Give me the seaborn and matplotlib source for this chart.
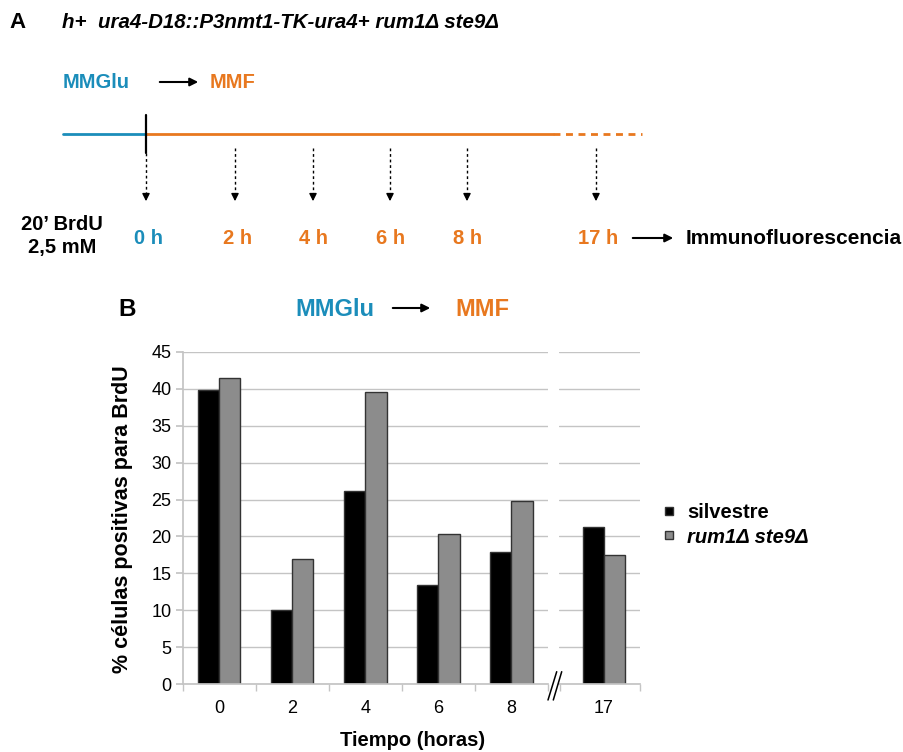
import pandas as pd
import matplotlib
matplotlib.use('Agg')
import matplotlib.pyplot as plt
import seaborn as sns
import numpy as np
from matplotlib.lines import Line2D

# Data
tiempos = ['0', '2', '4', '6', '8', '17']
silvestre = [39.8, 10.1, 26.2, 13.4, 17.9, 21.3]
mutante = [41.5, 17.0, 39.6, 20.4, 24.8, 17.5]
cepas = ['silvestre', 'rum1Δ ste9Δ']
esquema_horas = ['0 h', '2 h', '4 h', '6 h', '8 h', '17 h']

BLUE = '#1b8dba'
ORANGE = '#e8781f'
GRIS = '#8c8c8c'
GRID = '#c4c4c4'

sns.set_theme(style='white')
plt.rcParams['font.family'] = ['Liberation Sans', 'DejaVu Sans']
plt.rcParams.update({'text.color': 'black', 'axes.labelcolor': 'black',
                     'xtick.color': 'black', 'ytick.color': 'black'})

df = pd.DataFrame({
    'tiempo': tiempos * 2,
    'valor': silvestre + mutante,
    'cepa': [cepas[0]] * len(tiempos) + [cepas[1]] * len(tiempos),
})
df_izq = df[df['tiempo'] != '17']
df_der = df[df['tiempo'] == '17']

W, H = 904, 752
fig = plt.figure(figsize=(W / 100, H / 100), dpi=100)

def rect(x0, y0, x1, y1):
    return [x0 / W, 1 - y1 / H, (x1 - x0) / W, (y1 - y0) / H]

ax1 = fig.add_axes(rect(182.7, 351.7, 548, 684.3))
ax2 = fig.add_axes(rect(559, 351.7, 640, 684.3), sharey=ax1)

kw = dict(x='tiempo', y='valor', hue='cepa', palette=['black', GRIS],
          edgecolor='#333333', linewidth=1, width=0.58, legend=False)
sns.barplot(data=df_izq, order=tiempos[:5], ax=ax1, **kw)
sns.barplot(data=df_der, order=['17'], ax=ax2, **kw)

for ax in (ax1, ax2):
    ax.set_ylim(0, 45)
    ax.set_yticks(np.arange(0, 46, 5))
    ax.yaxis.grid(True, color=GRID, lw=1)
    ax.set_axisbelow(True)
    for s in ('top', 'right'):
        ax.spines[s].set_visible(False)
    ax.spines['bottom'].set_color(GRID)
    ax.set_xlabel('')
    ax.set_ylabel('')
    ax.tick_params(axis='x', length=0, labelsize=13, pad=11, labelcolor='black')

ax1.set_xlim(-0.5, 4.5)
ax1.set_xticks(np.arange(-0.5, 5, 1), minor=True)
ax1.tick_params(axis='x', which='minor', length=5, color=GRID, direction='out', bottom=True)
ax1.spines['left'].set_color(GRID)
ax1.tick_params(axis='y', length=5, color=GRID, direction='out', left=True, labelsize=13,
                labelcolor='black', pad=3)

ax2.set_xlim(-0.616, 0.494)
ax2.set_xticks([-0.6, 0.494], minor=True)
ax2.tick_params(axis='x', which='minor', length=5, color=GRID, direction='out', bottom=True)
ax2.spines['left'].set_visible(False)
ax2.tick_params(axis='y', left=False, labelleft=False)

fig.text(123 / W, 1 - 519 / H, '% células positivas para BrdU', rotation=90,
         ha='center', va='center', fontsize=15.5, fontweight='bold')
fig.text(413 / W, 1 - 741 / H, 'Tiempo (horas)', ha='center', va='center',
         fontsize=14.5, fontweight='bold')

handles = [Line2D([], [], marker='s', ls='', markersize=6, markerfacecolor='black', markeredgecolor='#333333'),
           Line2D([], [], marker='s', ls='', markersize=6, markerfacecolor=GRIS, markeredgecolor='#333333')]
leg = fig.legend(handles, cepas, loc='center left', bbox_to_anchor=(643 / W, 1 - 525 / H),
                 frameon=False, handlelength=0.8, handletextpad=0.5, labelspacing=0.25,
                 prop={'size': 14.5, 'weight': 'bold'})
leg.get_texts()[1].set_style('italic')

# overlay for the schematic (pixel coordinates)
ov = fig.add_axes([0, 0, 1, 1], zorder=5)
ov.set_xlim(0, W)
ov.set_ylim(H, 0)
ov.axis('off')
ov.patch.set_alpha(0)

# axis break marks
ov.plot([548, 556.7], [700, 671.7], color='black', lw=1.1)
ov.plot([553.3, 561.7], [700, 671.7], color='black', lw=1.1)

# panel B header
ov.text(118, 310, 'B', fontsize=17.5, fontweight='bold', va='center', ha='left')
ov.text(295, 310, 'MMGlu', color=BLUE, fontsize=17, fontweight='bold', va='center', ha='left')
ov.annotate('', xy=(433, 308), xytext=(390, 308),
            arrowprops=dict(arrowstyle='-|>', color='black', lw=1.5, mutation_scale=12))
ov.text(455, 310, 'MMF', color=ORANGE, fontsize=17, fontweight='bold', va='center', ha='left')

# panel A
ov.text(9, 22, 'A', fontsize=16, fontweight='bold', va='center', ha='left')
ov.text(62, 22, 'h+  ura4-D18::P3nmt1-TK-ura4+ rum1Δ ste9Δ', fontsize=14.8, fontweight='bold',
        style='italic', va='center', ha='left')
ov.text(63, 82, 'MMGlu', color=BLUE, fontsize=14.5, fontweight='bold', va='center', ha='left')
ov.annotate('', xy=(201, 82), xytext=(157, 82),
            arrowprops=dict(arrowstyle='-|>', color='black', lw=1.5, mutation_scale=12))
ov.text(210, 82, 'MMF', color=ORANGE, fontsize=14.5, fontweight='bold', va='center', ha='left')

ov.plot([63, 146], [134, 134], color=BLUE, lw=2)
ov.plot([146, 553], [134, 134], color=ORANGE, lw=2)
ov.plot([553, 642], [134, 134], color=ORANGE, lw=2, ls=(0, (2.5, 2)))
ov.plot([146, 146], [115, 153], color='black', lw=1.6)

flechas_x = [146, 235, 313, 390, 467, 596]
etiquetas_x = [149, 238, 314, 391, 468, 598]
for i, (xa, xl, lab) in enumerate(zip(flechas_x, etiquetas_x, esquema_horas)):
    y0 = 153 if i == 0 else 148
    ov.plot([xa, xa], [y0, 195], color='black', lw=1, ls=(0, (2, 2)))
    ov.annotate('', xy=(xa, 204), xytext=(xa, 193),
                arrowprops=dict(arrowstyle='-|>', color='black', lw=1, mutation_scale=11))
    ov.text(xl, 238, lab, color=BLUE if i == 0 else ORANGE, fontsize=14.5, fontweight='bold',
            va='center', ha='center')

ov.text(62, 224, '20’ BrdU', fontsize=14.5, fontweight='bold', va='center', ha='center')
ov.text(62, 248, '2,5 mM', fontsize=14.5, fontweight='bold', va='center', ha='center')
ov.annotate('', xy=(676, 238), xytext=(630, 238),
            arrowprops=dict(arrowstyle='-|>', color='black', lw=1.5, mutation_scale=12))
ov.text(686, 238, 'Immunofluorescencia', fontsize=15, fontweight='bold', va='center', ha='left')

fig.savefig('out.png', dpi=100)
